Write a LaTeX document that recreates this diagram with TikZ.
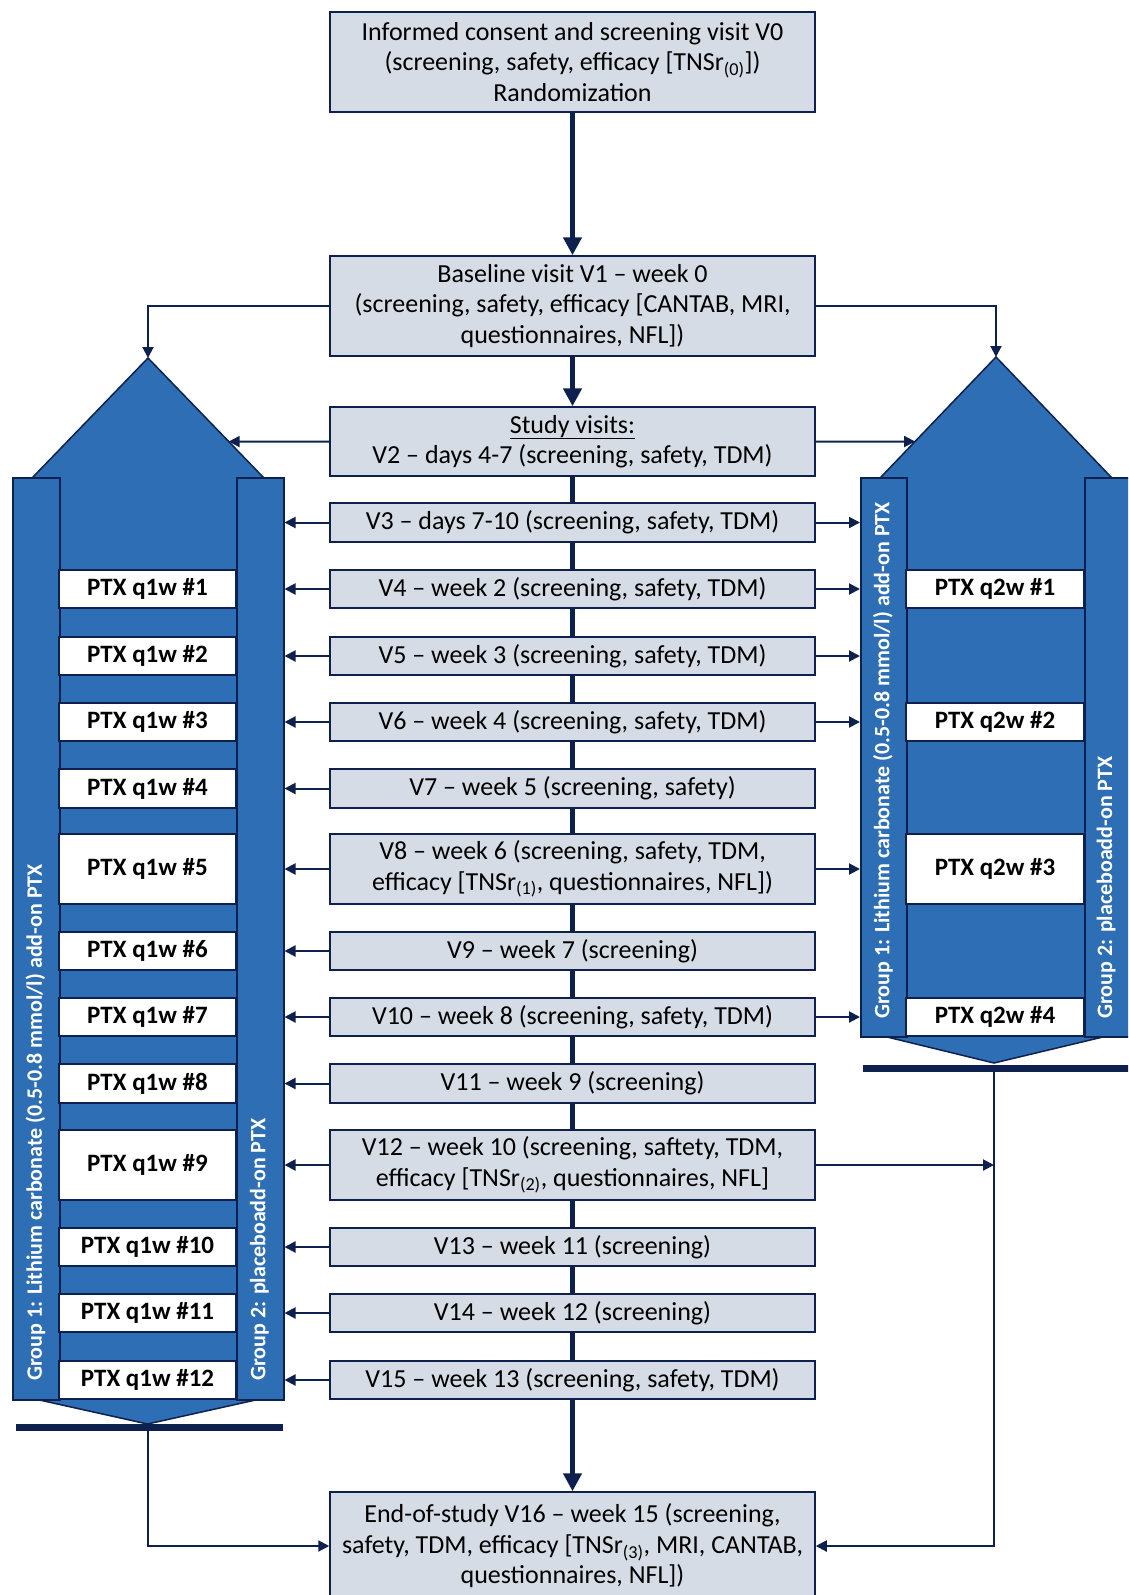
\documentclass[tikz,border=0pt]{standalone}
\usepackage{fontspec}
\setmainfont{Carlito}
\usetikzlibrary{arrows.meta,calc}
\definecolor{navy}{RGB}{14,33,78}
\definecolor{colblue}{RGB}{46,110,180}
\definecolor{boxfill}{RGB}{214,220,229}
\tikzset{
 vbox/.style={draw=navy, line width=1.5pt, fill=boxfill, minimum width=485pt, align=center, inner sep=0pt, font=\fontsize{26}{30.5}\selectfont},
 ptx/.style={draw=navy, line width=1.5pt, fill=white, inner sep=0pt, font=\fontsize{25}{30}\selectfont\bfseries},
 bar/.style={draw=navy, line width=1.5pt, fill=colblue, inner sep=0pt, anchor=north west},
 glabel/.style={rotate=90, anchor=west, text=white, inner sep=0pt, font=\fontsize{22}{26}\selectfont\bfseries},
 arr/.style={draw=navy, line width=2pt, -{Triangle[length=11pt,width=11pt]}},
 bigarr/.style={draw=navy, line width=5pt, -{Triangle[length=18pt,width=18pt]}},
 spine/.style={draw=navy, line width=4.5pt},
 hbar/.style={draw=navy, line width=7pt},
 colshape/.style={draw=navy, line width=1.5pt, fill=colblue, line join=miter},
}
\begin{document}
\begin{tikzpicture}[x=1pt,y=-1pt]
\useasboundingbox (0,0) rectangle (1128,1595);
\fill[white] (0,0) rectangle (1128,1595);
\clip (0,0) rectangle (1128,1595);

% ---------- central boxes ----------
\node[vbox, minimum height=100pt] (V0) at (572.5,62) {Informed consent and screening visit V0\\(screening, safety, efficacy [TNSr\textsubscript{(0)}])\\Randomization};
\node[vbox, minimum height=100pt] (V1) at (572.5,306) {Baseline visit V1 – week 0\\(screening, safety, efficacy [CANTAB, MRI,\\questionnaires, NFL])};
\node[vbox, minimum height=69pt] (V2) at (572.5,441.5) {\underline{Study visits:}\\V2 – days 4-7 (screening, safety, TDM)};
\node[vbox, minimum height=39pt] (V3) at (572.5,522.5) {V3 – days 7-10 (screening, safety, TDM)};
\node[vbox, minimum height=38pt] (V4) at (572.5,589) {V4 – week 2 (screening, safety, TDM)};
\node[vbox, minimum height=38pt] (V5) at (572.5,656) {V5 – week 3 (screening, safety, TDM)};
\node[vbox, minimum height=38pt] (V6) at (572.5,722) {V6 – week 4 (screening, safety, TDM)};
\node[vbox, minimum height=39pt] (V7) at (572.5,788.5) {V7 – week 5 (screening, safety)};
\node[vbox, minimum height=70pt] (V8) at (572.5,869) {V8 – week 6 (screening, safety, TDM,\\efficacy [TNSr\textsubscript{(1)}, questionnaires, NFL])};
\node[vbox, minimum height=38pt] (V9) at (572.5,951) {V9 – week 7 (screening)};
\node[vbox, minimum height=38pt] (V10) at (572.5,1017) {V10 – week 8 (screening, safety, TDM)};
\node[vbox, minimum height=39pt] (V11) at (572.5,1083.5) {V11 – week 9 (screening)};
\node[vbox, minimum height=70pt] (V12) at (572.5,1165) {V12 – week 10 (screening, saftety, TDM,\\efficacy [TNSr\textsubscript{(2)}, questionnaires, NFL]};
\node[vbox, minimum height=38pt] (V13) at (572.5,1247) {V13 – week 11 (screening)};
\node[vbox, minimum height=38pt] (V14) at (572.5,1313) {V14 – week 12 (screening)};
\node[vbox, minimum height=38pt] (V15) at (572.5,1380) {V15 – week 13 (screening, safety, TDM)};
\node[vbox, minimum height=108pt] (V16) at (572.5,1546) {End-of-study V16 – week 15 (screening,\\safety, TDM, efficacy [TNSr\textsubscript{(3)}, MRI, CANTAB,\\questionnaires, NFL])};

% ---------- left column ----------
\coordinate (lapex) at (148,358);
\coordinate (lbL) at (33,477);
\coordinate (lbR) at (263,477);
\draw[colshape] (lbL) -- (lapex) -- (lbR) -- (263,1399) -- (33,1399) -- cycle;
\draw[colshape] (35,1399) -- (147.5,1424) -- (260,1399) -- cycle;
\node[bar, minimum width=47pt, minimum height=922pt] (lb1) at (12,477) {};
\node[bar, minimum width=47pt, minimum height=922pt] (lb2) at (236,477) {};
\foreach \n/\cy/\h in {1/589/38, 2/656/38, 3/722/38, 4/788.5/39, 5/869/70, 6/951/38, 7/1017/38, 8/1083.5/39, 9/1165/70, 10/1247/38, 11/1313/38, 12/1380/38}
  \node[ptx, minimum width=177pt, minimum height=\h pt] (L\n) at (147.5,\cy) {PTX q1w \#\n};
\node[glabel] (lg1) at (35.5,1381) {Group 1: Lithium carbonate (0.5-0.8 mmol/l) add-on PTX};
\node[glabel] (lg2) at (259.5,1381) {Group 2: placeboadd-on PTX};

% ---------- right column ----------
\coordinate (rapex) at (996,357);
\coordinate (rbL) at (881,477);
\coordinate (rbR) at (1111,477);
\draw[colshape] (rbL) -- (rapex) -- (rbR) -- (1111,1036) -- (881,1036) -- cycle;
\draw[colshape] (883,1036) -- (994,1063) -- (1107,1036) -- cycle;
\node[bar, minimum width=46pt, minimum height=559pt] (rb1) at (860,477) {};
\node[bar, minimum width=48pt, minimum height=559pt] (rb2) at (1084,477) {};
\foreach \n/\cy/\h in {1/589/38, 2/722/38, 3/869/70, 4/1017/38}
  \node[ptx, minimum width=178pt, minimum height=\h pt] (R\n) at (995,\cy) {PTX q2w \#\n};
\node[glabel] (rg1) at (883,1019) {Group 1: Lithium carbonate (0.5-0.8 mmol/l) add-on PTX};
\node[glabel] (rg2) at (1106,1019) {Group 2: placeboadd-on PTX};

% ---------- main flow ----------
\draw[bigarr] (V0.south) -- (V1.north);
\draw[bigarr] (V1.south) -- (V2.north);
\foreach \a/\b in {2/3,3/4,4/5,5/6,6/7,7/8,8/9,9/10,10/11,11/12,12/13,13/14,14/15}
  \draw[spine] (V\a.south) -- (V\b.north);
\draw[bigarr] (V15.south) -- (V16.north);

\draw[arr] (V1.west) -| (lapex);
\draw[arr] (V1.east) -| (rapex);
\draw[arr] (V2.west) -- (intersection of V2.west--V2.east and lapex--lbR);
\draw[arr] (V2.east) -- (intersection of V2.west--V2.east and rapex--rbL);

\foreach \v in {3,...,15}
  \draw[arr] (V\v.west) -- (V\v.west -| lb2.east);
\foreach \v in {3,4,5,6,8,10}
  \draw[arr] (V\v.east) -- (V\v.east -| rb1.west);

% ---------- merges to end of study ----------
\coordinate (lbot) at (147.5,1427);
\coordinate (rbot) at (994,1068);
\draw[hbar] (16,1427) -- (283,1427);
\draw[hbar] (863,1068) -- (1140,1068);
\draw[arr] (lbot) |- (V16.west);
\draw[arr] (rbot) |- (V16.east);
\draw[arr] (V12.east) -- (V12.east -| rbot);
\end{tikzpicture}
\end{document}
